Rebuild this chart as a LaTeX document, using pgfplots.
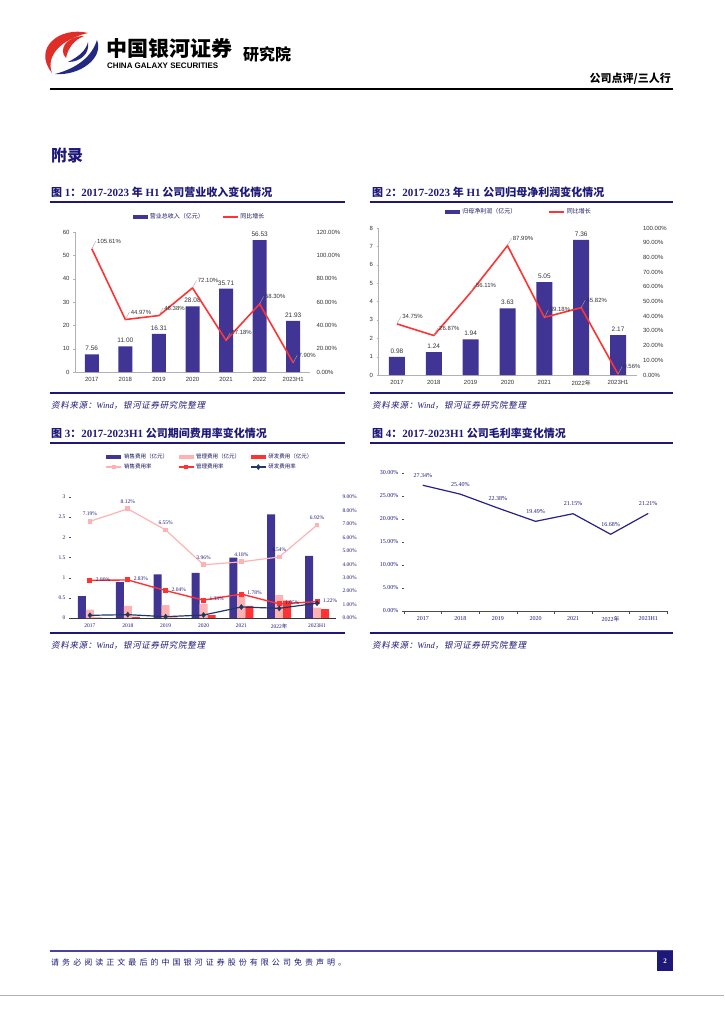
\documentclass[border=0pt]{standalone}
\usepackage{fontspec}
\usepackage{pgfplots}
\pgfplotsset{compat=1.18}
\setmainfont{Liberation Serif}
\newfontfamily\cjk{Noto Sans CJK SC}
\newfontfamily\cjki[FakeSlant=0.2,LetterSpace=8]{Noto Sans CJK SC}
\newfontfamily\cjksp[LetterSpace=38]{Noto Sans CJK SC}
\newfontfamily\arial{Liberation Sans}
\newcommand\C[1]{{\cjk #1}}

\definecolor{navy}{RGB}{30,25,120}
\definecolor{barblue}{RGB}{64,52,148}
\definecolor{linered}{RGB}{255,51,51}
\definecolor{pinkc}{RGB}{255,178,178}
\definecolor{rdline}{RGB}{31,56,100}
\definecolor{gmline}{RGB}{40,30,140}
\definecolor{logored}{RGB}{225,45,40}
\definecolor{logoblue}{RGB}{35,40,130}
\definecolor{footblue}{RGB}{75,65,160}

\pgfplotsset{
  /pgf/number format/assume math mode=true,
  barleg/.style={legend image code/.code={\fill[##1, draw=none] (0pt,-2pt) rectangle (15pt,2pt);}},
  lineleg/.style={legend image code/.code={\draw[mark repeat=2,mark phase=2,##1] plot coordinates {(0pt,0pt) (7.5pt,0pt) (15pt,0pt)};}},
  lead/.style={nodes near coords style={anchor=south west, xshift=4pt, yshift=4pt, inner sep=0.6pt,
     append after command={(\tikzlastnode.west) edge[draw=gray!70, line width=0.4pt] ([shift={(-4pt,-4pt)}]\tikzlastnode.south west)}}},
  pct/.style={nodes near coords={\pgfmathprintnumber[fixed,fixed zerofill,precision=2]{\pgfplotspointmeta}\%}},
  two/.style={nodes near coords={\pgfmathprintnumber[fixed,fixed zerofill,precision=2]{\pgfplotspointmeta}}},
  pctticks/.style={yticklabel={\pgfmathprintnumber[fixed,fixed zerofill,precision=2]{\tick}\%}},
}

\begin{document}
\begin{tikzpicture}
\path[use as bounding box] (0,0) rectangle (724pt,-1024pt);

% header
\fill[logored] (88pt,-33pt) .. controls (60pt,-26pt) and (32pt,-48pt) .. (52pt,-73pt)
   .. controls (46pt,-58pt) and (58pt,-40pt) .. (88pt,-33pt) -- cycle;
\fill[logoblue] (97pt,-40pt) .. controls (104pt,-58pt) and (80pt,-76pt) .. (55pt,-74pt)
   .. controls (78pt,-68pt) and (92pt,-56pt) .. (97pt,-40pt) -- cycle;
\fill[logored] (84pt,-36pt) .. controls (66pt,-36pt) and (58pt,-50pt) .. (66pt,-58pt)
   .. controls (68pt,-48pt) and (74pt,-40pt) .. (84pt,-36pt) -- cycle;
\fill[logoblue] (88pt,-42pt) .. controls (90pt,-54pt) and (80pt,-62pt) .. (68pt,-62pt)
   .. controls (80pt,-56pt) and (86pt,-50pt) .. (88pt,-42pt) -- cycle;
\node[anchor=west, inner sep=0pt, font=\cjk\bfseries\fontsize{21}{23}\selectfont] at (106pt,-48pt) {中国银河证券};
\node[anchor=west, inner sep=0pt, font=\arial\bfseries\fontsize{8}{9}\selectfont] at (107pt,-66pt) {CHINA GALAXY SECURITIES};
\node[anchor=west, inner sep=0pt, font=\cjk\bfseries\fontsize{16}{18}\selectfont] at (243pt,-54pt) {研究院};
\node[anchor=east, inner sep=0pt, font=\cjk\bfseries\fontsize{11}{12}\selectfont] at (671pt,-79pt) {公司点评/三人行};
\draw[line width=1.6pt] (50pt,-89pt) -- (673pt,-89pt);

\node[anchor=west, inner sep=0pt, text=navy, font=\cjk\bfseries\fontsize{16}{18}\selectfont] at (51pt,-155pt) {附录};

% titles and rules
\node[anchor=west, inner sep=0pt, text=navy, font=\bfseries\fontsize{11}{12}\selectfont] at (51pt,-192pt)
  {\C{图} 1\C{：}2017-2023 \C{年} H1 \C{公司营业收入变化情况}};
\node[anchor=west, inner sep=0pt, text=navy, font=\bfseries\fontsize{11}{12}\selectfont] at (372pt,-192pt)
  {\C{图} 2\C{：}2017-2023 \C{年} H1 \C{公司归母净利润变化情况}};
\node[anchor=west, inner sep=0pt, text=navy, font=\bfseries\fontsize{11}{12}\selectfont] at (51pt,-433pt)
  {\C{图} 3\C{：}2017-2023H1 \C{公司期间费用率变化情况}};
\node[anchor=west, inner sep=0pt, text=navy, font=\bfseries\fontsize{11}{12}\selectfont] at (372pt,-433pt)
  {\C{图} 4\C{：}2017-2023H1 \C{公司毛利率变化情况}};
\foreach \yy in {202,393,443,633} {
  \draw[navy, line width=1.6pt] (50pt,-\yy pt) -- (345pt,-\yy pt);
  \draw[navy, line width=1.6pt] (370pt,-\yy pt) -- (673pt,-\yy pt);
}
\foreach \xx/\yy in {51/405,372/405,51/645,372/645} {
  \node[anchor=west, inner sep=0pt, text=navy, font=\fontsize{8.5}{10}\selectfont] at (\xx pt,-\yy pt)
    {{\cjki 资料来源：}\textit{Wind}{\cjki ，银河证券研究院整理}};
}

% footer
\draw[footblue, line width=1.5pt] (50pt,-951pt) -- (673pt,-951pt);
\node[anchor=west, inner sep=0pt, text=navy, font=\cjksp\fontsize{8}{9}\selectfont] at (51pt,-962pt)
  {请务必阅读正文最后的中国银河证券股份有限公司免责声明。};
\fill[navy] (657pt,-951pt) rectangle (673pt,-971pt);
\node[text=white, font=\bfseries\fontsize{7}{8}\selectfont] at (665pt,-961pt) {2};
\draw[gray!60, line width=1pt] (0pt,-995pt) -- (724pt,-995pt);

% ---------- chart 1 ----------
\begin{axis}[
  at={(75pt,-372pt)}, anchor=south west, scale only axis, width=235pt, height=140pt, clip=false,
  xmin=-0.5, xmax=6.5, ymin=0, ymax=60, ytick={0,10,...,60},
  xtick={0,...,6}, xticklabels={2017,2018,2019,2020,2021,2022,2023H1},
  axis x line*=bottom, axis y line*=left, axis line style={-, draw=gray!60},
  major x tick style={draw=none}, major y tick style={draw=gray!60}, major tick length=2pt, tick align=outside,
  ticklabel style={font=\arial\fontsize{6}{7}\selectfont, text=black!80},
  ybar, bar width=14pt, two,
  nodes near coords style={font=\arial\fontsize{6.5}{7}\selectfont, text=black!80},
]
\addplot[fill=barblue, draw=none] coordinates {(0,7.56) (1,11.00) (2,16.31) (3,28.08) (4,35.71) (5,56.53) (6,21.93)};
\end{axis}
\begin{axis}[
  at={(75pt,-372pt)}, anchor=south west, scale only axis, width=235pt, height=140pt, clip=false,
  xmin=-0.5, xmax=6.5, ymin=0, ymax=120, ytick={0,20,...,120}, pctticks,
  axis x line=none, axis y line*=right, y axis line style={draw=none}, major tick length=0pt,
  yticklabel style={font=\arial\fontsize{6}{7}\selectfont, text=black!80, xshift=3pt},
  legend style={at={(0.53,1.107)}, anchor=center, draw=none, fill=none, inner sep=0pt,
     font=\cjk\fontsize{6}{7}\selectfont, text=navy!80!black, legend columns=2,
     /tikz/every even column/.append style={column sep=16pt}},
  legend cell align=left,
]
\addlegendimage{barleg, fill=barblue, draw=none}
\addlegendentry{营业总收入（亿元）}
\addlegendimage{lineleg, linered, line width=1.6pt}
\addlegendentry{同比增长}
\addplot[linered, line width=1.6pt, forget plot, pct, lead,
  nodes near coords style={font=\arial\fontsize{6}{7}\selectfont, text=black!80}]
  coordinates {(0,105.61) (1,44.97) (2,48.38) (3,72.10) (4,27.18) (5,58.30) (6,7.90)};
\end{axis}

% ---------- chart 2 ----------
\begin{axis}[
  at={(378.5pt,-375pt)}, anchor=south west, scale only axis, width=258pt, height=147pt, clip=false,
  xmin=-0.5, xmax=6.5, ymin=0, ymax=8, ytick={0,1,...,8},
  xtick={0,...,6}, xticklabels={2017,2018,2019,2020,2021,2022\C{年},2023H1},
  axis x line*=bottom, axis y line*=left, axis line style={-, draw=gray!60},
  major x tick style={draw=none}, major y tick style={draw=gray!60}, major tick length=2pt, tick align=outside,
  ticklabel style={font=\arial\fontsize{6}{7}\selectfont, text=black!80},
  ybar, bar width=16pt, two,
  nodes near coords style={font=\arial\fontsize{6.5}{7}\selectfont, text=black!80},
]
\addplot[fill=barblue, draw=none] coordinates {(0,0.98) (1,1.24) (2,1.94) (3,3.63) (4,5.05) (5,7.36) (6,2.17)};
\end{axis}
\begin{axis}[
  at={(378.5pt,-375pt)}, anchor=south west, scale only axis, width=258pt, height=147pt, clip=false,
  xmin=-0.5, xmax=6.5, ymin=0, ymax=100, ytick={0,10,...,100}, pctticks,
  axis x line=none, axis y line*=right, y axis line style={draw=none}, major tick length=0pt,
  yticklabel style={font=\arial\fontsize{6}{7}\selectfont, text=black!80, xshift=3pt},
  legend style={at={(0.545,1.109)}, anchor=center, draw=none, fill=none, inner sep=0pt,
     font=\cjk\fontsize{6}{7}\selectfont, text=navy!80!black, legend columns=2,
     /tikz/every even column/.append style={column sep=30pt}},
  legend cell align=left,
]
\addlegendimage{barleg, fill=barblue, draw=none}
\addlegendentry{归母净利润（亿元）}
\addlegendimage{lineleg, linered, line width=1.6pt}
\addlegendentry{同比增长}
\addplot[linered, line width=1.6pt, forget plot, pct, lead,
  nodes near coords style={font=\arial\fontsize{6}{7}\selectfont, text=black!80}]
  coordinates {(0,34.75) (1,26.87) (2,56.11) (3,87.99) (4,39.18) (5,45.82) (6,0.56)};
\end{axis}

% ---------- chart 3 ----------
\begin{axis}[
  at={(71pt,-618pt)}, anchor=south west, scale only axis, width=265pt, height=121pt, clip=false,
  xmin=-0.5, xmax=6.5, ymin=0, ymax=3, ytick={0,0.5,1,1.5,2,2.5,3},
  xtick={0,...,6}, xticklabels={2017,2018,2019,2020,2021,2022\C{年},2023H1},
  axis x line*=bottom, axis y line*=left, axis line style={-},
  y axis line style={draw=none}, x axis line style={draw=black!80},
  major x tick style={draw=none}, major y tick style={draw=black!70}, major tick length=2pt, tick align=outside,
  ticklabel style={font=\fontsize{5.5}{6}\selectfont, text=navy},
  ybar=0pt, bar width=8pt,
]
\addplot[fill=barblue, draw=none] coordinates {(0,0.54) (1,0.89) (2,1.08) (3,1.12) (4,1.50) (5,2.57) (6,1.54)};
\addplot[fill=pinkc, draw=none] coordinates {(0,0.21) (1,0.30) (2,0.32) (3,0.35) (4,0.57) (5,0.57) (6,0.26)};
\addplot[fill=linered, draw=none] coordinates {(0,0.01) (1,0.03) (2,0.01) (3,0.07) (4,0.30) (5,0.43) (6,0.22)};
\end{axis}
\begin{axis}[
  at={(71pt,-618pt)}, anchor=south west, scale only axis, width=265pt, height=121pt, clip=false,
  xmin=-0.5, xmax=6.5, ymin=0, ymax=9, ytick={0,1,...,9}, pctticks,
  axis x line=none, axis y line*=right, y axis line style={draw=none}, major tick length=0pt,
  yticklabel style={font=\fontsize{5.5}{6}\selectfont, text=navy, xshift=3pt},
  legend style={at={(0.525,1.29)}, anchor=center, draw=none, fill=none, inner sep=0pt,
     font=\cjk\fontsize{5.5}{7}\selectfont, text=navy!80!black, legend columns=3,
     /tikz/every even column/.append style={column sep=8pt}},
  legend cell align=left,
]
\addlegendimage{barleg, fill=barblue, draw=none}
\addlegendentry{销售费用（亿元）}
\addlegendimage{barleg, fill=pinkc, draw=none}
\addlegendentry{管理费用（亿元）}
\addlegendimage{barleg, fill=linered, draw=none}
\addlegendentry{研发费用（亿元）}
\addlegendimage{lineleg, pinkc, line width=1.2pt, mark=square*, mark size=1.5pt}
\addlegendentry{销售费用率}
\addlegendimage{lineleg, linered, line width=1.2pt, mark=square*, mark size=1.5pt}
\addlegendentry{管理费用率}
\addlegendimage{lineleg, rdline, line width=1.2pt, mark=diamond*, mark size=2pt}
\addlegendentry{研发费用率}
\addplot[pinkc, line width=1.2pt, mark=square*, mark size=1.8pt, forget plot, pct,
  nodes near coords style={font=\fontsize{5.5}{6}\selectfont, text=navy, anchor=south, yshift=1.5pt}]
  coordinates {(0,7.19) (1,8.12) (2,6.55) (3,3.96) (4,4.18) (5,4.54) (6,6.92)};
\addplot[linered, line width=1.4pt, mark=square*, mark size=1.8pt, forget plot, pct,
  nodes near coords style={font=\fontsize{5.5}{6}\selectfont, text=navy, anchor=west, xshift=2pt, yshift=1pt}]
  coordinates {(0,2.80) (1,2.83) (2,2.04) (3,1.33) (4,1.78) (5,1.05) (6,1.22)};
\addplot[rdline, line width=1.2pt, mark=diamond*, mark size=2pt, forget plot]
  coordinates {(0,0.20) (1,0.25) (2,0.10) (3,0.22) (4,0.82) (5,0.72) (6,1.10)};
\end{axis}

% ---------- chart 4 ----------
\begin{axis}[
  at={(404pt,-611pt)}, anchor=south west, scale only axis, width=263pt, height=138pt, clip=false,
  xmin=-0.5, xmax=6.5, ymin=0, ymax=30, ytick={0,5,...,30}, pctticks,
  xtick={0,...,6}, xticklabels={2017,2018,2019,2020,2021,2022\C{年},2023H1},
  minor xtick={-0.5,0.5,...,6.5},
  axis x line*=bottom, axis y line*=left, axis line style={-},
  y axis line style={draw=none}, x axis line style={draw=black!70},
  major x tick style={draw=none}, minor x tick style={draw=black!70}, minor tick length=3pt,
  major y tick style={draw=black!70}, major tick length=2pt, tick align=outside,
  ticklabel style={font=\fontsize{6}{7}\selectfont, text=navy},
]
\addplot[gmline, line width=1.2pt, pct,
  nodes near coords style={font=\fontsize{6}{7}\selectfont, text=navy, anchor=south, yshift=4pt}]
  coordinates {(0,27.34) (1,25.40) (2,22.38) (3,19.49) (4,21.15) (5,16.68) (6,21.21)};
\end{axis}
\end{tikzpicture}
\end{document}
